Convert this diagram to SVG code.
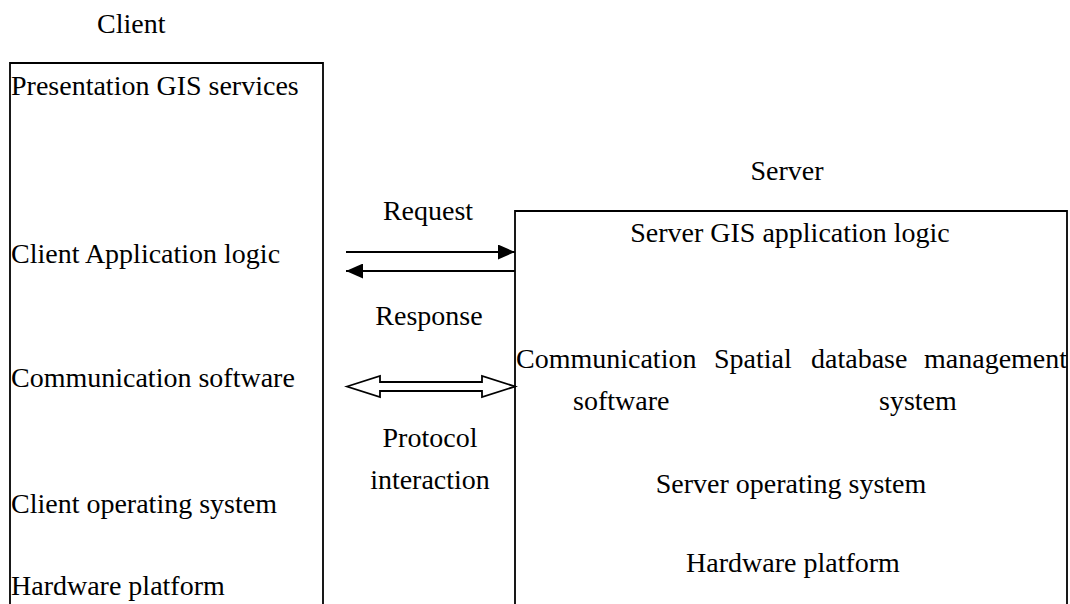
<svg xmlns="http://www.w3.org/2000/svg" width="1070" height="604" viewBox="0 0 1070 604">
<style>
text{font-family:"Liberation Serif","Times New Roman",serif;font-size:28px;fill:#000}
.box{fill:none;stroke:#000;stroke-width:1.8}
.ln{stroke:#000;stroke-width:1.8;fill:none}
.m{text-anchor:middle}
</style>
<defs>
<marker id="ah" markerWidth="17" markerHeight="15" refX="17" refY="7.5" orient="auto" markerUnits="userSpaceOnUse">
<path d="M0,0 L17,7.5 L0,15 Z" fill="#000"/>
</marker>
</defs>
<text x="97" y="33">Client</text>
<g id="client">
<path class="box" d="M10,604 V63 H323 V604"/>
<text x="11" y="95">Presentation GIS services</text>
<text x="11" y="263">Client Application logic</text>
<text x="11" y="387">Communication software</text>
<text x="11" y="513">Client operating system</text>
<text x="11" y="595">Hardware platform</text>
</g>
<text class="m" x="787" y="180">Server</text>
<g id="server">
<path class="box" d="M515,604 V211 H1067 V604"/>
<text class="m" x="790" y="242">Server GIS application logic</text>
<text y="368"><tspan x="516">Communication</tspan><tspan x="714">Spatial</tspan><tspan x="811">database</tspan><tspan x="924">management</tspan></text>
<text y="410"><tspan x="573">software</tspan><tspan x="879">system</tspan></text>
<text class="m" x="791" y="493">Server operating system</text>
<text class="m" x="793" y="572">Hardware platform</text>
</g>
<g id="connectors">
<line class="ln" x1="346" y1="252" x2="515" y2="252" marker-end="url(#ah)"/>
<line class="ln" x1="515" y1="271" x2="346" y2="271" marker-end="url(#ah)"/>
<path class="ln" d="M347,386.5 L380,376 V382 H482 V376 L515,386.5 L482,397 V391 H380 V397 Z" fill="#fff"/>
<text class="m" x="428" y="220">Request</text>
<text class="m" x="429" y="325">Response</text>
<text class="m" x="430" y="447">Protocol</text>
<text class="m" x="430" y="489">interaction</text>
</g>
</svg>
